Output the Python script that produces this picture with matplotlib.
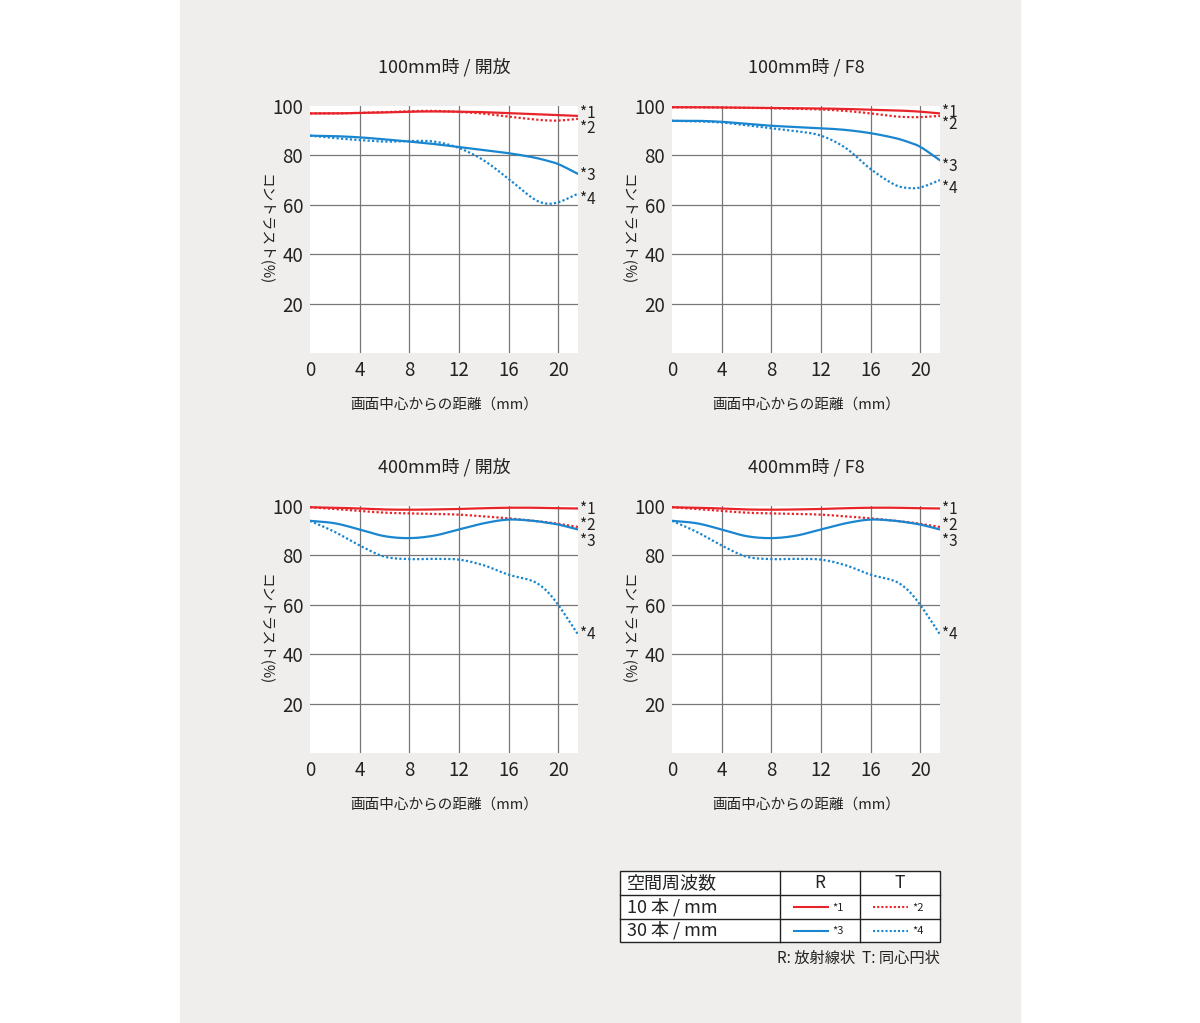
import matplotlib
matplotlib.use("Agg")
import matplotlib.pyplot as plt
import numpy as np
from matplotlib.patches import Rectangle

plt.rcParams['font.family'] = ['Noto Sans CJK JP', 'DejaVu Sans']

x = [0, 2, 4, 6, 8, 10, 12, 14, 16, 18, 19, 20, 21.6]

titles = ["100mm時 / 開放", "100mm時 / F8", "400mm時 / 開放", "400mm時 / F8"]

tl1 = [97, 97, 97.2, 97.4, 97.7, 97.8, 97.7, 97.5, 97.1, 96.7, 96.5, 96.3, 96]
tl2 = [97, 97, 97.2, 97.5, 97.9, 98, 97.6, 96.9, 95.7, 94.6, 94.2, 94.1, 94.8]
tl3 = [88, 87.8, 87.3, 86.5, 85.6, 84.6, 83.4, 82.2, 80.9, 79.2, 78, 76.5, 72.5]
tl4 = [88, 87, 86.2, 85.6, 85.8, 85.6, 83, 78, 70.5, 62.5, 60.5, 61, 64.5]

tr1 = [99.5, 99.5, 99.4, 99.3, 99.2, 99.1, 99, 98.8, 98.5, 98.2, 98, 97.7, 97]
tr2 = [99.5, 99.5, 99.4, 99.3, 99.1, 98.9, 98.6, 98, 97, 95.8, 95.5, 95.5, 96]
tr3 = [94, 94, 93.6, 92.8, 92, 91.5, 91, 90.3, 89, 87, 85.5, 83.5, 78]
tr4 = [94, 93.8, 93.3, 92.2, 91, 89.8, 88, 83, 74.5, 68, 66.8, 67, 70]

b1 = [99.5, 99.3, 99, 98.6, 98.5, 98.6, 98.8, 99.1, 99.3, 99.3, 99.2, 99.1, 99]
b2 = [99.5, 98.8, 98, 97.3, 97, 96.8, 96.5, 95.8, 95, 94, 93.5, 92.8, 91.5]
b3 = [94, 93, 90.5, 87.8, 87, 88, 90.5, 93, 94.5, 94, 93.3, 92.5, 90.5]
b4 = [94, 89.5, 84, 79.5, 78.5, 78.6, 78.3, 76, 72.2, 69.5, 66, 60, 48]

series = [(tl1, tl2, tl3, tl4), (tr1, tr2, tr3, tr4), (b1, b2, b3, b4), (b1, b2, b3, b4)]
xticks = [0, 4, 8, 12, 16, 20]
yticks = [20, 40, 60, 80, 100]

RED = "#e8242a"
BLUE = "#1a86cf"
W, H = 1200, 1023

fig = plt.figure(figsize=(12, 10.23), dpi=100)
fig.patches.append(Rectangle((180 / W, 0), 840 / W, 1, transform=fig.transFigure,
                             color="#efeeec", zorder=-10))

lefts = [310, 672, 310, 672]
tops = [106, 106, 506, 506]

def smooth(xs, ys):
    xs = np.asarray(xs, float); ys = np.asarray(ys, float)
    xd = np.linspace(xs[0], xs[-1], 300)
    n = len(xs)
    m = np.zeros(n)
    for i in range(n):
        if i == 0:
            m[i] = (ys[1] - ys[0]) / (xs[1] - xs[0])
        elif i == n - 1:
            m[i] = (ys[-1] - ys[-2]) / (xs[-1] - xs[-2])
        else:
            m[i] = (ys[i + 1] - ys[i - 1]) / (xs[i + 1] - xs[i - 1])
    yd = np.empty_like(xd)
    for j, xv in enumerate(xd):
        k = min(np.searchsorted(xs, xv, side='right') - 1, n - 2)
        h = xs[k + 1] - xs[k]
        t = (xv - xs[k]) / h
        h00 = 2 * t**3 - 3 * t**2 + 1; h10 = t**3 - 2 * t**2 + t
        h01 = -2 * t**3 + 3 * t**2; h11 = t**3 - t**2
        yd[j] = h00 * ys[k] + h10 * h * m[k] + h01 * ys[k + 1] + h11 * h * m[k + 1]
    return xd, yd

for i in range(4):
    l, t = lefts[i], tops[i]
    ax = fig.add_axes([l / W, 1 - (t + 247) / H, 268 / W, 247 / H])
    ax.set_facecolor("white")
    ax.set_xlim(0, 21.6); ax.set_ylim(0, 100)
    for s in ax.spines.values():
        s.set_visible(False)
    for xv in xticks[1:]:
        ax.axvline(xv, color="#777777", lw=0.9, zorder=1)
    for yv in yticks[:-1]:
        ax.axhline(yv, color="#777777", lw=0.9, zorder=1)
    ax.set_xticks(xticks); ax.set_yticks(yticks)
    ax.tick_params(length=0, labelsize=13.5, pad=5, colors="#222222")
    s1, s2, s3, s4 = series[i]
    ax.plot(*smooth(x, s1), color=RED, lw=1.6, zorder=3)
    ax.plot(*smooth(x, s2), color=RED, lw=1.6, ls=(0, (1, 1)), zorder=3)
    ax.plot(*smooth(x, s3), color=BLUE, lw=1.6, zorder=3)
    ax.plot(*smooth(x, s4), color=BLUE, lw=1.6, ls=(0, (1, 1)), zorder=3)
    ends = [s1[-1], s2[-1], s3[-1], s4[-1]]
    if i >= 2:
        offs = (-0.5, 0.8, -4.8, 0)
    elif i == 1:
        offs = (0.5, -3.5, -2.5, -3.5)
    else:
        offs = (1, -4, -0.5, -2.5)
    for k, (e, o) in enumerate(zip(ends, offs)):
        ax.text(21.6 + 0.2, e + o, f"*{k + 1}", fontsize=11, va="center",
                ha="left", color="#222222", clip_on=False)
    ax.set_title(titles[i], fontsize=13, pad=24, color="#222222")
    ax.set_xlabel("画面中心からの距離（mm）", fontsize=10.5, labelpad=12, color="#222222")
    ax.set_ylabel("コントラスト(%)", fontsize=10.5, rotation=270, color="#222222",
                  va="center", ha="center")
    ax.yaxis.set_label_coords(-0.165, 0.5)

def fx(p): return p / W
def fy(p): return 1 - p / H
tx0, tx1, c1, c2 = 620, 940, 780, 860
rows = [871, 895, 919, 942]
fig.patches.append(Rectangle((fx(tx0), fy(rows[-1])), (tx1 - tx0) / W,
                             (rows[-1] - rows[0]) / H, transform=fig.transFigure,
                             facecolor="white", edgecolor="#222222", lw=1))
for r in rows[1:-1]:
    fig.lines.append(plt.Line2D([fx(tx0), fx(tx1)], [fy(r), fy(r)],
                                transform=fig.transFigure, color="#222222", lw=1))
for c in (c1, c2):
    fig.lines.append(plt.Line2D([fx(c), fx(c)], [fy(rows[0]), fy(rows[-1])],
                                transform=fig.transFigure, color="#222222", lw=1))
rowtxt = ["空間周波数", "10 本 / mm", "30 本 / mm"]
for k, txt in enumerate(rowtxt):
    yc = (rows[k] + rows[k + 1]) / 2
    fig.text(fx(627), fy(yc), txt, fontsize=13, va="center", ha="left", color="#222222")
yc0 = (rows[0] + rows[1]) / 2
fig.text(fx(820), fy(yc0), "R", fontsize=12.5, ha="center", va="center", color="#222222")
fig.text(fx(900), fy(yc0), "T", fontsize=12.5, ha="center", va="center", color="#222222")
sty = [(RED, "*1", "*2"), (BLUE, "*3", "*4")]
for k, (col, la, lb) in enumerate(sty):
    yc = (rows[k + 1] + rows[k + 2]) / 2
    fig.lines.append(plt.Line2D([fx(794), fx(828)], [fy(yc), fy(yc)],
                                transform=fig.transFigure, color=col, lw=1.5))
    fig.text(fx(832), fy(yc + 1), la, fontsize=8, va="center", color="#222222")
    fig.lines.append(plt.Line2D([fx(873), fx(908)], [fy(yc), fy(yc)],
                                transform=fig.transFigure, color=col, lw=1.5, ls=(0, (1, 1))))
    fig.text(fx(912), fy(yc + 1), lb, fontsize=8, va="center", color="#222222")
fig.text(fx(940), fy(958), "R: 放射線状  T: 同心円状", fontsize=11, ha="right",
         va="center", color="#222222")

fig.savefig("out.png", dpi=100, facecolor="white")
